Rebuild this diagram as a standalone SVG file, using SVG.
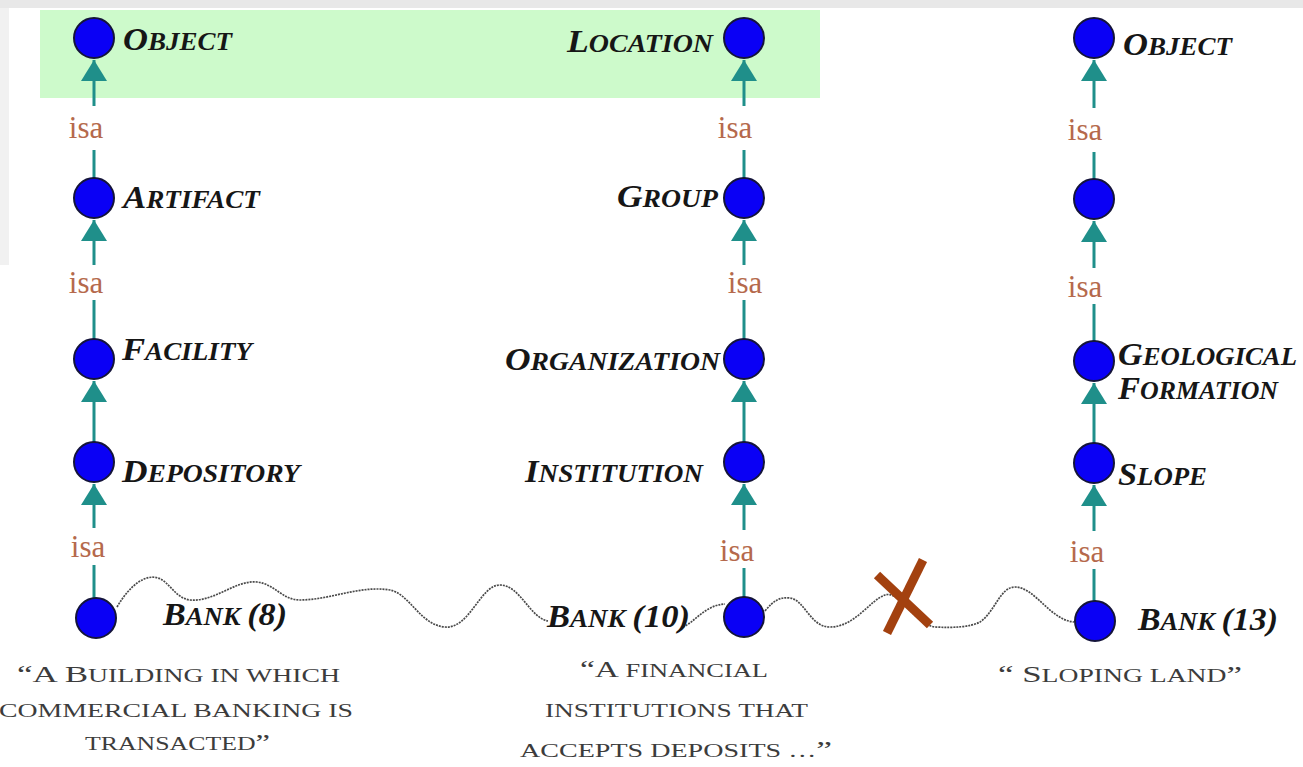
<svg xmlns="http://www.w3.org/2000/svg" width="1303" height="767" viewBox="0 0 1303 767">
<style>
.lbl{font-family:"Liberation Serif","Times New Roman",serif;font-weight:bold;font-style:italic;fill:#161616;font-size:25px}
.lbl .b{font-size:32px}
.def{font-family:"Liberation Serif","Times New Roman",serif;fill:#3c3c3c;font-size:19px}
.def .b{font-size:24px}
.isa{font-family:"Liberation Serif","Times New Roman",serif;fill:#b5694c;font-size:31px;text-anchor:middle}
.node{fill:#0a00f5;stroke:#14143a;stroke-width:2}
.edge{stroke:#1f8f8a;stroke-width:3;fill:none}
.wave{stroke:#4a4a4a;stroke-width:1.7;fill:none;stroke-dasharray:2 1}
.cross{stroke:#a3410f;stroke-width:9;stroke-linecap:butt}
</style>
<defs>
<marker id="arr" viewBox="0 0 21 26" refX="21" refY="13" markerWidth="21" markerHeight="26" orient="auto" markerUnits="userSpaceOnUse">
<path d="M0,0 L21,13 L0,26 z" fill="#1f8f8a"/>
</marker>
</defs>
<rect x="0" y="0" width="1303" height="767" fill="#ffffff"/>
<rect x="0" y="0" width="1303" height="8" fill="#e8e8e8"/>
<rect x="0" y="8" width="9" height="257" fill="#f1f1f1"/>
<rect x="40" y="10" width="780" height="88" fill="#cdfacb"/>

<g id="connectors">
<!-- column 1 -->
<line class="edge" x1="94" y1="178" x2="94" y2="150"/>
<line class="edge" x1="94" y1="106" x2="94" y2="60" marker-end="url(#arr)"/>
<line class="edge" x1="94" y1="339" x2="94" y2="300"/>
<line class="edge" x1="94" y1="265" x2="94" y2="220" marker-end="url(#arr)"/>
<line class="edge" x1="94" y1="442" x2="94" y2="381" marker-end="url(#arr)"/>
<line class="edge" x1="94" y1="598" x2="94" y2="565"/>
<line class="edge" x1="94" y1="528" x2="94" y2="484" marker-end="url(#arr)"/>
<!-- column 2 -->
<line class="edge" x1="744" y1="178" x2="744" y2="150"/>
<line class="edge" x1="744" y1="106" x2="744" y2="60" marker-end="url(#arr)"/>
<line class="edge" x1="744" y1="339" x2="744" y2="300"/>
<line class="edge" x1="744" y1="265" x2="744" y2="220" marker-end="url(#arr)"/>
<line class="edge" x1="744" y1="442" x2="744" y2="381" marker-end="url(#arr)"/>
<line class="edge" x1="744" y1="597" x2="744" y2="568"/>
<line class="edge" x1="744" y1="530" x2="744" y2="484" marker-end="url(#arr)"/>
<!-- column 3 -->
<line class="edge" x1="1094" y1="179" x2="1094" y2="152"/>
<line class="edge" x1="1094" y1="108" x2="1094" y2="60" marker-end="url(#arr)"/>
<line class="edge" x1="1094" y1="341" x2="1094" y2="304"/>
<line class="edge" x1="1094" y1="268" x2="1094" y2="221" marker-end="url(#arr)"/>
<line class="edge" x1="1094" y1="443" x2="1094" y2="383" marker-end="url(#arr)"/>
<line class="edge" x1="1094" y1="601" x2="1094" y2="569"/>
<line class="edge" x1="1094" y1="531" x2="1094" y2="485" marker-end="url(#arr)"/>
<!-- isa labels -->
<text class="isa" x="86" y="138">isa</text>
<text class="isa" x="86" y="293">isa</text>
<text class="isa" x="88" y="557">isa</text>
<text class="isa" x="735" y="138">isa</text>
<text class="isa" x="745" y="293">isa</text>
<text class="isa" x="737" y="561">isa</text>
<text class="isa" x="1085" y="140">isa</text>
<text class="isa" x="1085" y="297">isa</text>
<text class="isa" x="1087" y="562">isa</text>
<!-- wavy similarity lines -->
<path class="wave" d="M117,607 C130,585 145,574 158,578 C170,582 175,598 190,600 C215,602 235,580 257,582 C275,584 282,600 300,600 C330,600 360,585 390,590 C410,594 420,625 445,627 C470,629 480,585 500,585 C520,585 530,618 548,621"/>
<path class="wave" d="M683,627 C695,622 705,605 725,604"/>
<path class="wave" d="M765,611 C774,600 780,597 790,598 C805,600 810,627 830,627 C855,627 870,600 885,595 C900,590 915,625 935,627 C955,628 970,627 980,622 C995,612 1000,587 1015,587 C1035,587 1050,620 1074,622"/>
<line class="cross" x1="877" y1="575" x2="930" y2="625"/>
<line class="cross" x1="923" y1="560" x2="887" y2="633"/>
</g>

<g id="n-object1"><circle class="node" cx="94" cy="38" r="20"/>
<text class="lbl" x="123" y="50" textLength="109" lengthAdjust="spacingAndGlyphs" fill="#1a2c1a"><tspan class="b">O</tspan>BJECT</text></g>
<g id="n-artifact"><circle class="node" cx="94" cy="198" r="20"/>
<text class="lbl" x="123" y="208" textLength="137" lengthAdjust="spacingAndGlyphs"><tspan class="b">A</tspan>RTIFACT</text></g>
<g id="n-facility"><circle class="node" cx="94" cy="359" r="20"/>
<text class="lbl" x="122" y="360" textLength="130" lengthAdjust="spacingAndGlyphs"><tspan class="b">F</tspan>ACILITY</text></g>
<g id="n-depository"><circle class="node" cx="94" cy="462" r="20"/>
<text class="lbl" x="122" y="482" textLength="178" lengthAdjust="spacingAndGlyphs"><tspan class="b">D</tspan>EPOSITORY</text></g>
<g id="n-bank8"><circle class="node" cx="96" cy="618" r="20"/>
<text class="lbl" x="163" y="625" textLength="124" lengthAdjust="spacingAndGlyphs"><tspan class="b">B</tspan>ANK <tspan class="b">(8)</tspan></text>
<text class="def" x="17" y="682" textLength="323" lengthAdjust="spacingAndGlyphs"><tspan class="b">“A B</tspan>UILDING IN WHICH</text>
<text class="def" x="-1" y="717" textLength="354" lengthAdjust="spacingAndGlyphs">COMMERCIAL BANKING IS</text>
<text class="def" x="85" y="750" textLength="185" lengthAdjust="spacingAndGlyphs">TRANSACTED<tspan class="b">”</tspan></text></g>

<g id="n-location"><circle class="node" cx="744" cy="38" r="20"/>
<text class="lbl" x="567" y="52" textLength="146" lengthAdjust="spacingAndGlyphs" fill="#1a2c1a"><tspan class="b">L</tspan>OCATION</text></g>
<g id="n-group"><circle class="node" cx="744" cy="198" r="20"/>
<text class="lbl" x="617" y="207" textLength="101" lengthAdjust="spacingAndGlyphs"><tspan class="b">G</tspan>ROUP</text></g>
<g id="n-organization"><circle class="node" cx="744" cy="359" r="20"/>
<text class="lbl" x="505" y="370" textLength="215" lengthAdjust="spacingAndGlyphs"><tspan class="b">O</tspan>RGANIZATION</text></g>
<g id="n-institution"><circle class="node" cx="744" cy="462" r="20"/>
<text class="lbl" x="525" y="482" textLength="178" lengthAdjust="spacingAndGlyphs"><tspan class="b">I</tspan>NSTITUTION</text></g>
<g id="n-bank10"><circle class="node" cx="744" cy="617" r="20"/>
<text class="lbl" x="547" y="627" textLength="143" lengthAdjust="spacingAndGlyphs"><tspan class="b">B</tspan>ANK <tspan class="b">(10)</tspan></text>
<text class="def" x="580" y="677" textLength="188" lengthAdjust="spacingAndGlyphs"><tspan class="b">“A</tspan> FINANCIAL</text>
<text class="def" x="545" y="717" textLength="263" lengthAdjust="spacingAndGlyphs">INSTITUTIONS THAT</text>
<text class="def" x="520" y="757" textLength="312" lengthAdjust="spacingAndGlyphs">ACCEPTS DEPOSITS …<tspan class="b">”</tspan></text></g>

<g id="n-object3"><circle class="node" cx="1094" cy="38" r="20"/>
<text class="lbl" x="1123" y="55" textLength="109" lengthAdjust="spacingAndGlyphs"><tspan class="b">O</tspan>BJECT</text></g>
<g id="n-unnamed"><circle class="node" cx="1094" cy="199" r="20"/></g>
<g id="n-geological"><circle class="node" cx="1094" cy="361" r="20"/>
<text class="lbl" x="1118" y="365" textLength="179" lengthAdjust="spacingAndGlyphs"><tspan class="b">G</tspan>EOLOGICAL</text>
<text class="lbl" x="1118" y="399" textLength="160" lengthAdjust="spacingAndGlyphs"><tspan class="b">F</tspan>ORMATION</text></g>
<g id="n-slope"><circle class="node" cx="1094" cy="463" r="20"/>
<text class="lbl" x="1118" y="485" textLength="89" lengthAdjust="spacingAndGlyphs"><tspan class="b">S</tspan>LOPE</text></g>
<g id="n-bank13"><circle class="node" cx="1095" cy="621" r="20"/>
<text class="lbl" x="1138" y="630" textLength="140" lengthAdjust="spacingAndGlyphs"><tspan class="b">B</tspan>ANK <tspan class="b">(13)</tspan></text>
<text class="def" x="998" y="682" textLength="244" lengthAdjust="spacingAndGlyphs"><tspan class="b">“ S</tspan>LOPING LAND<tspan class="b">”</tspan></text></g>
</svg>
